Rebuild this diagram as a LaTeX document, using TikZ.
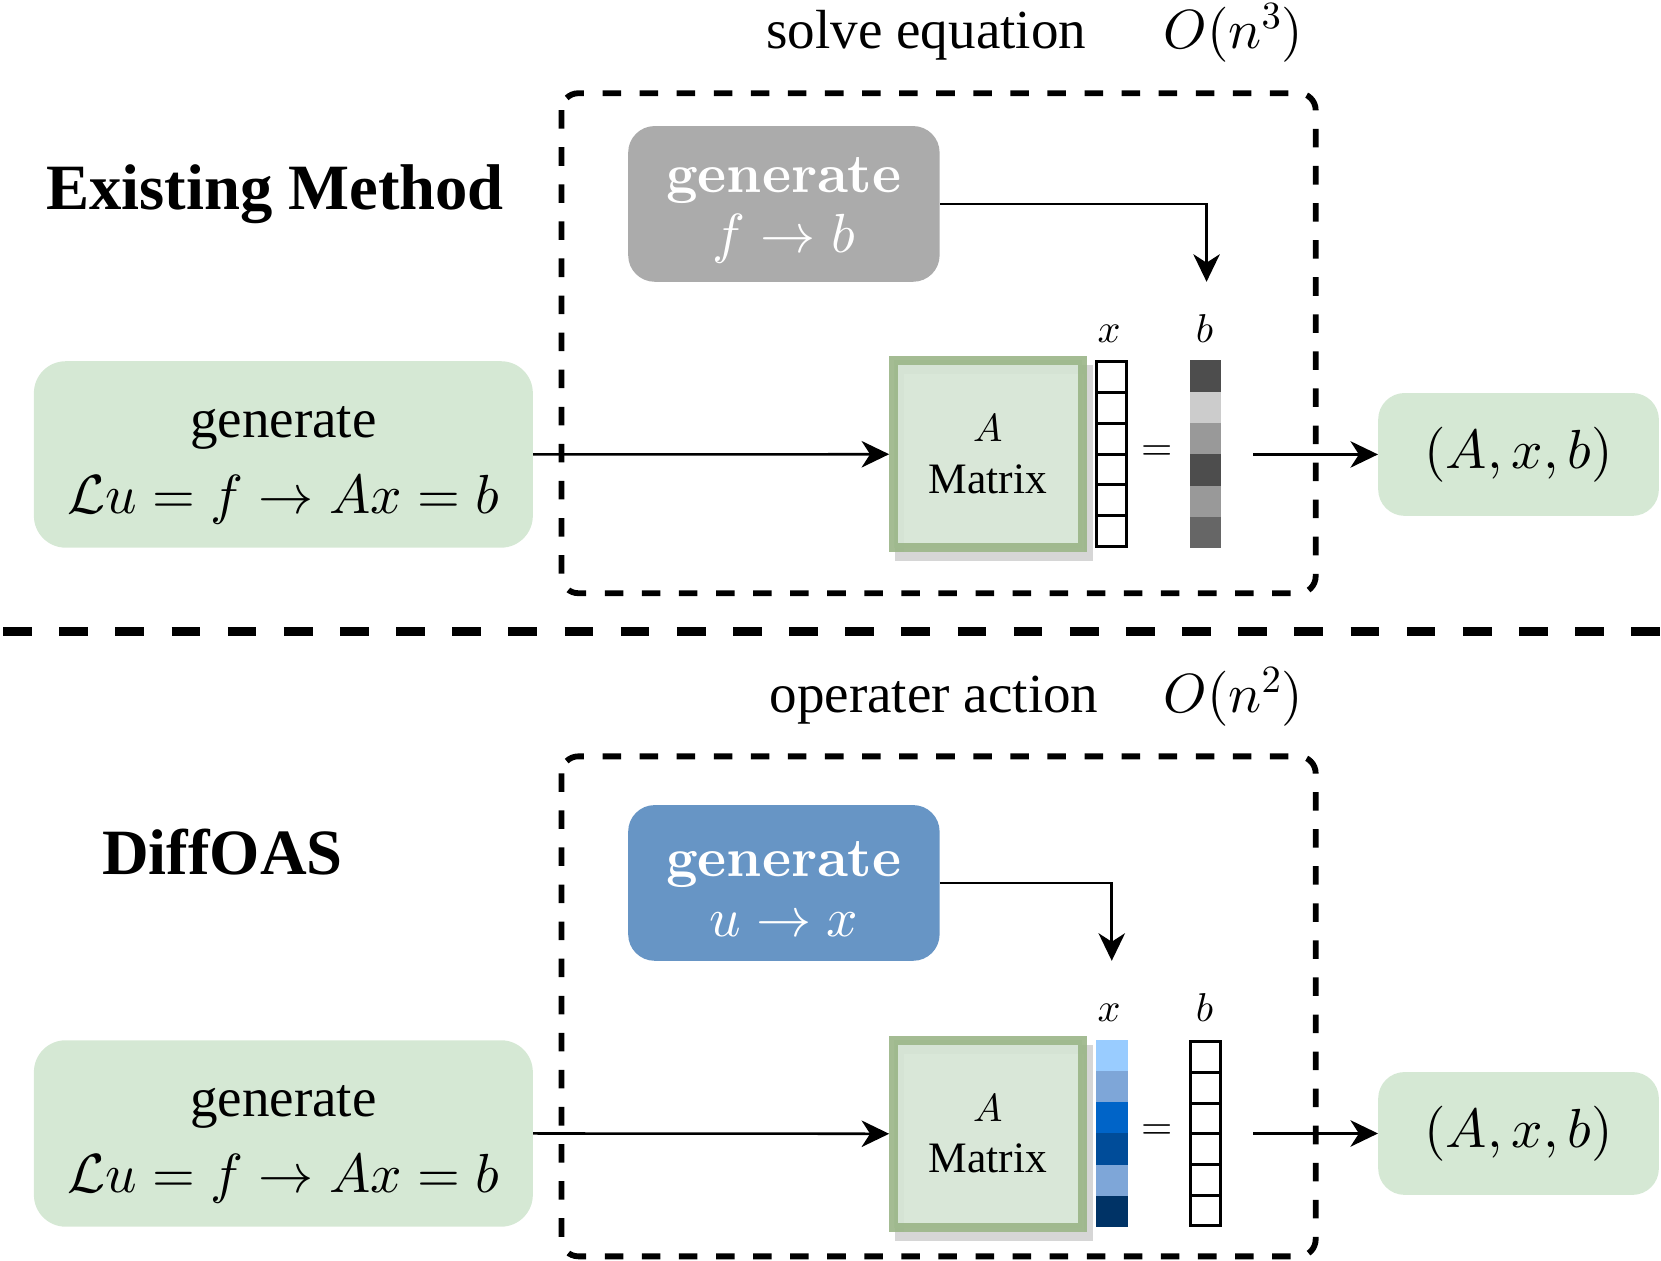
\documentclass[tikz,border=0pt]{standalone}
\usepackage{fix-cm}
\DeclareFontShape{OML}{cmm}{m}{it}{<->cmmi10}{}
\DeclareFontShape{OMS}{cmsy}{m}{n}{<->cmsy10}{}
\DeclareFontShape{OT1}{cmr}{m}{n}{<->cmr10}{}
\usepackage{fontspec}
\newfontfamily\timesfont{Liberation Serif}
\font\genfont=cmbx10 at 52pt
\usetikzlibrary{arrows.meta}
\definecolor{boxgreen}{HTML}{D5E8D4}
\definecolor{matgreen}{HTML}{9AB587}
\definecolor{boxgray}{HTML}{ABABAB}
\definecolor{boxblue}{HTML}{6795C5}
\definecolor{bvecA}{HTML}{4D4D4D}
\definecolor{bvecB}{HTML}{CCCCCC}
\definecolor{bvecC}{HTML}{999999}
\definecolor{bvecD}{HTML}{666666}
\definecolor{xvecA}{HTML}{99CCFF}
\definecolor{xvecB}{HTML}{7EA6D8}
\definecolor{xvecC}{HTML}{0064C8}
\definecolor{xvecD}{HTML}{004C99}
\definecolor{xvecE}{HTML}{003366}

\begin{document}
\begin{tikzpicture}[x=1pt, y=-1pt,
    arr/.style={line width=2.4pt, -{Stealth[length=26pt, width=25pt, inset=8pt]}},
    dashbox/.style={line width=5.5pt, dash pattern=on 17.5pt off 17.5pt, rounded corners=16pt},
    sepline/.style={line width=8.5pt, dash pattern=on 27pt off 26pt},
    inbox/.style={rounded corners=30pt, fill=boxgreen, minimum width=471pt, minimum height=176pt,
        align=center, inner sep=0pt, font=\fontsize{52}{72}\selectfont},
    resbox/.style={rounded corners=25pt, fill=boxgreen, minimum width=265pt, minimum height=116pt,
        inner sep=0pt, font=\fontsize{52}{60}\selectfont},
    genbox/.style={rounded corners=25pt, minimum width=294pt, minimum height=147pt, align=center,
        inner sep=0pt, text=white, font=\fontsize{52}{57}\selectfont},
    matbox/.style={draw=matgreen, fill=boxgreen, line width=8.5pt, fill opacity=0.75, draw opacity=0.9,
        text opacity=1, minimum width=178pt, minimum height=177pt, inner sep=0pt, align=center,
        font=\fontsize{41}{48.6}\selectfont},
    matshade/.style={draw=black!16, fill=black!10, line width=8.5pt, minimum width=178pt,
        minimum height=177pt, inner sep=0pt},
    cell/.style={draw=black, line width=2.8pt, fill=white},
    lbl/.style={anchor=base, font=\fontsize{38}{40}\selectfont},
    title/.style={anchor=base west, font=\timesfont\bfseries\fontsize{61}{70}\selectfont},
    cost/.style={anchor=base west, font=\timesfont\fontsize{52}{60}\selectfont}]

    \useasboundingbox (0,0) rectangle (1568,1190);

    % ---------------- Existing Method ----------------
    \node[cost] (cost1) at (720,46) {solve equation};
    \node[cost] (ord1) at (1095,46) {$O(n^3)$};
    \draw[dashbox] (530,88) rectangle (1242,560);
    \node[title] (name1) at (40,198) {Existing Method};

    \node[genbox, fill=boxgray] (genb1) at (740,192.5) {\rule{0pt}{45pt}{\genfont generate}\\$f\to b$};
    \node[inbox] (gen1) at (267.5,429) {\rule{0pt}{50pt}{\timesfont generate}\\$\mathcal{L}u=f\to Ax=b$};

    % matrix with its shadow
    \node[matshade] (mat1s) at (938.4,437.3) {};
    \node[matbox] (mat1) at (932.6,428.8) {{\fontsize{37}{40}\selectfont$A$}\\{\timesfont Matrix}};

    % x: empty cells
    \foreach \i in {0,...,5}
        \draw[cell] (1035.5,{341.5+29.08*\i}) rectangle ++(28,29.08);
    % b: filled cells
    \foreach \c [count=\i from 0] in {bvecA,bvecB,bvecC,bvecA,bvecC,bvecD}
        \fill[\c] (1123.7,{340+29.6*\i}) rectangle ++(29,29.6);
    \node[lbl] (lx1) at (1047,323) {$x$};
    \node[lbl] (lb1) at (1137,323) {$b$};
    \node[font=\fontsize{38}{40}\selectfont] (eq1) at (1092,428) {$=$};

    \node[resbox] (res1) at (1433.5,429) {$(A,x,b)$};
    \coordinate (tip1) at (1139,266);
    \coordinate (out1) at (1183,429);

    \draw[arr] (gen1.east) -- (mat1.west);
    \draw[arr] (genb1.east) -| (tip1);
    \draw[arr] (out1) -- (res1.west);

    % separator
    \draw[sepline] (3,596) -- (1568,596);

    % ---------------- DiffOAS ----------------
    \node[cost] (cost2) at (723,673) {operater action};
    \node[cost] (ord2) at (1095,673) {$O(n^2)$};
    \draw[dashbox] (530,714) rectangle (1242,1186);
    \node[title] (name2) at (93,826) {DiffOAS};

    \node[genbox, fill=boxblue] (genb2) at (740,833.5) {\rule{0pt}{45pt}{\genfont generate}\\$u\to x$};
    \node[inbox] (gen2) at (267.5,1070) {\rule{0pt}{50pt}{\timesfont generate}\\$\mathcal{L}u=f\to Ax=b$};

    \node[matshade] (mat2s) at (938.4,1078.8) {};
    \node[matbox] (mat2) at (932.6,1070.3) {{\fontsize{37}{40}\selectfont$A$}\\{\timesfont Matrix}};

    % x: filled cells
    \foreach \c [count=\i from 0] in {xvecA,xvecB,xvecC,xvecD,xvecB,xvecE}
        \fill[\c] (1035,{982+29.33*\i}) rectangle ++(30,29.33);
    % b: empty cells
    \foreach \i in {0,...,5}
        \draw[cell] (1123.5,{983.5+28.92*\i}) rectangle ++(29,28.92);
    \node[lbl] (lx2) at (1047,964) {$x$};
    \node[lbl] (lb2) at (1137,964) {$b$};
    \node[font=\fontsize{38}{40}\selectfont] (eq2) at (1092,1069) {$=$};

    \node[resbox] (res2) at (1433.5,1070) {$(A,x,b)$};
    \coordinate (tip2) at (1049.5,907);
    \coordinate (out2) at (1183,1070);

    \draw[arr] (gen2.east) -- (mat2.west);
    \draw[arr] (genb2.east) -| (tip2);
    \draw[arr] (out2) -- (res2.west);
\end{tikzpicture}
\end{document}
